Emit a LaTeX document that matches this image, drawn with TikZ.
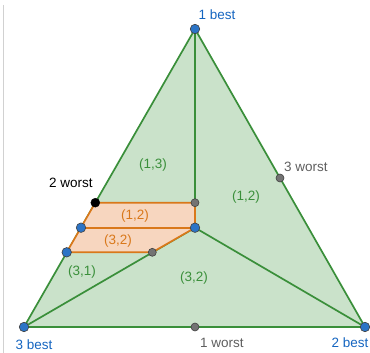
\documentclass[tikz,border=0pt]{standalone}
\usepackage{fontspec}
\setmainfont{Liberation Sans}
\usetikzlibrary{positioning}
\definecolor{simplexgreen}{HTML}{3A8F3A}
\definecolor{simplexfill}{HTML}{CAE2CA}
\definecolor{regionorange}{HTML}{D9781A}
\definecolor{regionfill}{HTML}{F7D6BF}
\definecolor{bestblue}{HTML}{1565C0}
\definecolor{worstgray}{HTML}{5F5F5F}

\begin{document}
\begin{tikzpicture}[
x=1pt, y=-1pt,
font=\fontsize{13.5}{16}\selectfont,
edge/.style={simplexgreen, line width=1.7pt},
cut/.style={regionorange, line width=1.7pt, line join=round},
bestpt/.style={circle, draw=black!75, fill=bestblue!90!white, inner sep=0pt, minimum size=9.5pt, line width=0.6pt},
midpt/.style={circle, draw=black!75, fill=black!55, inner sep=0pt, minimum size=8pt, line width=0.6pt},
worstpt/.style={circle, draw=black, fill=black, inner sep=0pt, minimum size=9pt},
bestlbl/.style={text=bestblue},
worstlbl/.style={text=worstgray},
pairlbl/.style={text=simplexgreen},
cutlbl/.style={text=regionorange}
]
\useasboundingbox (0,0) rectangle (370,353);
\draw[black!18, line width=1pt] (3,5) -- (3,353);

% corners, centre and cut points
\coordinate (A) at (195,29);
\coordinate (B) at (24,327);
\coordinate (C) at (365,327);
\coordinate (M) at (195,227.7);
\coordinate (wA) at (195,327);
\coordinate (wC) at (280,178);
\coordinate (wB) at (95.3,202.7);
\coordinate (top) at (195,202.7);
\coordinate (mid) at (81,227.7);
\coordinate (low) at (66.7,252.3);
\coordinate (lowr) at (152.3,252.3);

% simplex
\fill[simplexfill] (A) -- (B) -- (C) -- cycle;
\draw[edge, line join=round] (A) -- (B) -- (C) -- cycle;
\draw[edge] (A) -- (M);
\draw[edge] (M) -- (B);
\draw[edge] (M) -- (C);

% region
\filldraw[cut, fill=regionfill] (wB) -- (top) -- (M) -- (lowr) -- (low) -- cycle;
\draw[cut] (mid) -- (M);

% points
\node[bestpt] (pA) at (A) {};
\node[bestpt] (pB) at (B) {};
\node[bestpt] (pC) at (C) {};
\node[bestpt] (pM) at (M) {};
\node[bestpt] (pmid) at (mid) {};
\node[bestpt] (plow) at (low) {};
\node[midpt] (pwA) at (wA) {};
\node[midpt] (pwC) at (wC) {};
\node[midpt] (ptop) at (top) {};
\node[midpt] (plowr) at (lowr) {};
\node[worstpt] (pwB) at (wB) {};

% labels
\node[bestlbl] (l1b) at (217,15) {1 best};
\node[bestlbl] (l3b) at (34,345) {3 best};
\node[bestlbl] (l2b) at (350,343) {2 best};
\node[worstlbl] (l1w) at (222,343) {1 worst};
\node[worstlbl] (l3w) at (306,167) {3 worst};
\node (l2w) at (71,183) {2 worst};
\node[pairlbl] (r13) at (153,165) {(1,3)};
\node[pairlbl] (r12) at (246,197) {(1,2)};
\node[pairlbl] (r31) at (82,272) {(3,1)};
\node[pairlbl] (r32) at (194,278) {(3,2)};
\node[cutlbl] (c12) at (135,216) {(1,2)};
\node[cutlbl] (c32) at (118,241) {(3,2)};
\end{tikzpicture}
\end{document}
